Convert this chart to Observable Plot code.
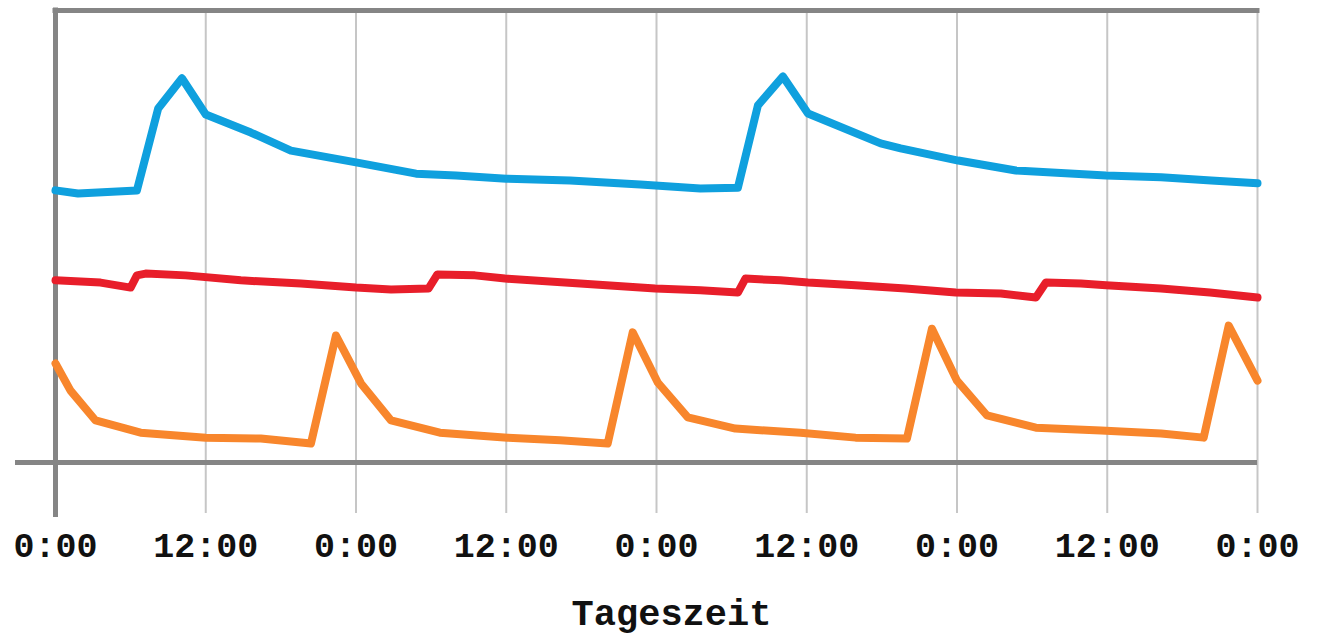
<!DOCTYPE html>
<html>
<head>
<meta charset="utf-8">
<script src="https://cdn.jsdelivr.net/npm/d3@7"></script>
<script src="https://cdn.jsdelivr.net/npm/@observablehq/plot@0.6"></script>
<style>
  html, body { margin: 0; padding: 0; background: #fff; }
  #chart svg { display: block; }
</style>
</head>
<body>
<div id="chart"></div>
<script>
// x: hours since start (4 days), y: relative level (0 = baseline, 100 = top of frame)
const tickHours = [0, 12, 24, 36, 48, 60, 72, 84, 96];
const axisTitle = "Tageszeit";
const yMax = 100;
const yMin = 0;

const blueHours = [0, 1.8, 6.5, 8.2, 10.1, 12, 15.6, 18.8, 24, 28.8, 32, 36, 41.1, 46.7, 51.5, 54.5, 56.1, 58.1, 60.1, 65.9, 67.5, 72.1, 76.7, 83.9, 88.3, 92.3, 96];
const blueValues = [60.2, 59.5, 60.2, 78.3, 85.0, 77.0, 73.0, 69.0, 66.4, 63.9, 63.5, 62.8, 62.4, 61.5, 60.6, 60.8, 79.0, 85.4, 77.2, 70.6, 69.5, 66.8, 64.6, 63.5, 63.1, 62.4, 61.8];

const redHours = [0, 3.6, 6.0, 6.5, 7.2, 10.4, 14.8, 19.6, 24, 26.8, 29.8, 30.5, 33.5, 35.9, 41.9, 47.9, 51.5, 54.5, 55.1, 57.9, 60.1, 63.9, 67.9, 71.9, 75.5, 78.3, 79.1, 81.9, 83.9, 88.3, 92.2, 96];
const redValues = [40.3, 39.8, 38.7, 41.4, 41.8, 41.4, 40.3, 39.6, 38.7, 38.3, 38.5, 41.6, 41.4, 40.7, 39.6, 38.5, 38.1, 37.6, 40.7, 40.3, 39.8, 39.2, 38.5, 37.6, 37.4, 36.5, 39.8, 39.6, 39.2, 38.5, 37.6, 36.5];

const orangeHours = [0, 1.2, 3.2, 6.8, 12, 16.4, 20.4, 22.4, 24.4, 26.8, 30.7, 36.1, 40.3, 44.1, 46.1, 48.1, 50.5, 54.3, 59.5, 63.9, 68.0, 70.0, 72.0, 74.4, 78.3, 83.5, 88.3, 91.7, 93.7, 96];
const orangeValues = [21.9, 15.9, 9.3, 6.6, 5.5, 5.3, 4.2, 28.1, 17.5, 9.3, 6.6, 5.5, 4.9, 4.2, 28.8, 17.7, 10.0, 7.5, 6.6, 5.5, 5.3, 29.6, 18.1, 10.4, 7.7, 7.1, 6.4, 5.5, 30.3, 18.1];

const toRows = (hours, values) => hours.map((h, i) => ({h, v: values[i]}));
const blue = toRows(blueHours, blueValues);
const red = toRows(redHours, redValues);
const orange = toRows(orangeHours, orangeValues);

const gridColor = "#c6c6c6";
const frameColor = "#858585";
const font = "Courier New, Liberation Mono, monospace";

const chart = Plot.plot({
  width: 1320,
  height: 637,
  marginLeft: 55,
  marginRight: 63,
  marginTop: 10,
  marginBottom: 175,
  style: {fontFamily: font, fontWeight: "bold", background: "#fff"},
  x: {domain: [tickHours[0], tickHours[tickHours.length - 1]]},
  y: {domain: [yMin, yMax], axis: null},
  marks: [
    Plot.gridX(tickHours, {stroke: gridColor, strokeOpacity: 1, strokeWidth: 2}),
    Plot.axisX(tickHours, {
      tickSize: 51, tickPadding: 19, stroke: gridColor, strokeWidth: 2,
      tickFormat: h => `${h % 24}:00`, fontSize: 35, fill: "#111", label: null
    }),
    // left frame extension below baseline
    Plot.axisX([tickHours[0]], {tickSize: 55, stroke: frameColor, strokeWidth: 5, tickFormat: () => "", label: null}),
    // baseline extension to the left
    Plot.axisY([yMin], {tickSize: 40, stroke: frameColor, strokeWidth: 5, tickFormat: () => "", label: null}),
    Plot.ruleY([yMin], {stroke: frameColor, strokeWidth: 5}),
    Plot.ruleY([yMax], {stroke: frameColor, strokeWidth: 5, strokeLinecap: "square"}),
    Plot.ruleX([tickHours[0]], {stroke: frameColor, strokeWidth: 5, strokeLinecap: "square"}),
    Plot.lineY(red, {x: "h", y: "v", stroke: "#e81e2a", strokeWidth: 8, strokeLinejoin: "round"}),
    Plot.lineY(orange, {x: "h", y: "v", stroke: "#f8862c", strokeWidth: 8, strokeLinejoin: "round"}),
    Plot.lineY(blue, {x: "h", y: "v", stroke: "#0fa0de", strokeWidth: 8, strokeLinejoin: "round"}),
    Plot.text([axisTitle], {frameAnchor: "bottom", text: d => d, dx: 15, dy: 151, fontSize: 37, fill: "#111", lineAnchor: "middle"})
  ]
});
document.getElementById("chart").appendChild(chart);
</script>
</body>
</html>
